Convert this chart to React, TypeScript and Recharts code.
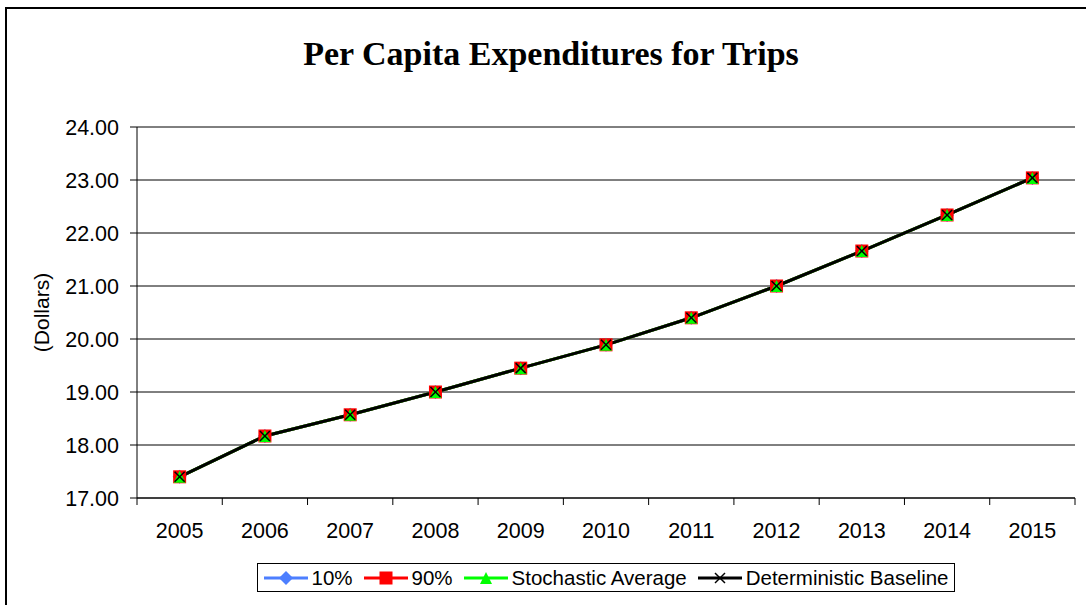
import { LineChart, Line, XAxis, YAxis, CartesianGrid } from "recharts";

const years = ["2005", "2006", "2007", "2008", "2009", "2010", "2011", "2012", "2013", "2014", "2015"];
const tenPct = [17.4, 18.17, 18.57, 19.0, 19.45, 19.89, 20.4, 21.0, 21.66, 22.34, 23.04];
const ninetyPct = [17.4, 18.17, 18.57, 19.0, 19.45, 19.89, 20.4, 21.0, 21.66, 22.34, 23.04];
const stochasticAvg = [17.4, 18.17, 18.57, 19.0, 19.45, 19.89, 20.4, 21.0, 21.66, 22.34, 23.04];
const deterministicBaseline = [17.4, 18.17, 18.57, 19.0, 19.45, 19.89, 20.4, 21.0, 21.66, 22.34, 23.04];
const yTicks = [17, 18, 19, 20, 21, 22, 23, 24];

const data = years.map((year, i) => ({
  year,
  p10: tenPct[i],
  p90: ninetyPct[i],
  avg: stochasticAvg[i],
  base: deterministicBaseline[i],
}));

const BLUE = "#4d7fff";
const RED = "#ff0000";
const GREEN = "#00ff00";
const FONT = "'Liberation Sans', Arial, sans-serif";

const PLOT_LEFT = 137;
const PLOT_RIGHT = 1075;
const HALF_BAND = (PLOT_RIGHT - PLOT_LEFT) / years.length / 2;

const Diamond = ({ cx, cy }: any) => (
  <polygon points={`${cx},${cy - 7} ${cx + 7},${cy} ${cx},${cy + 7} ${cx - 7},${cy}`} fill={BLUE} />
);
const Square = ({ cx, cy }: any) => <rect x={cx - 6.5} y={cy - 6.5} width={13} height={13} fill={RED} />;
const Triangle = ({ cx, cy }: any) => (
  <polygon points={`${cx},${cy - 6} ${cx + 6},${cy + 6} ${cx - 6},${cy + 6}`} fill={GREEN} />
);
const Cross = ({ cx, cy }: any) => (
  <g stroke="#000" strokeWidth={1.5}>
    <line x1={cx - 5} y1={cy - 5} x2={cx + 5} y2={cy + 5} />
    <line x1={cx - 5} y1={cy + 5} x2={cx + 5} y2={cy - 5} />
  </g>
);

const XTick = (props: any) => {
  const { x, y, payload, index } = props;
  return (
    <g>
      <line x1={x - HALF_BAND} x2={x - HALF_BAND} y1={y} y2={y + 7} stroke="#000" />
      {index === years.length - 1 && (
        <line x1={x + HALF_BAND} x2={x + HALF_BAND} y1={y} y2={y + 7} stroke="#000" />
      )}
      <text x={x} y={y + 40} textAnchor="middle" fontSize={21.5} fontFamily={FONT} fill="#000">
        {payload.value}
      </text>
    </g>
  );
};

const legendItems = [
  { label: "10%", color: BLUE, Mark: Diamond },
  { label: "90%", color: RED, Mark: Square },
  { label: "Stochastic Average", color: GREEN, Mark: Triangle },
  { label: "Deterministic Baseline", color: "#000", Mark: Cross },
];

const App = () => {
  return (
    <div style={{ position: "absolute", left: 0, top: 0, width: 1086, height: 605, overflow: "hidden", background: "#fff" }}>
      <div
        style={{
          position: "absolute",
          left: 5,
          top: 7,
          width: 1100,
          height: 620,
          border: "2px solid #000",
        }}
      />
      <div
        style={{
          position: "absolute",
          left: 0,
          width: 1102,
          top: 34,
          textAlign: "center",
          fontFamily: "'Liberation Serif', 'Times New Roman', serif",
          fontWeight: "bold",
          fontSize: 34,
          lineHeight: "40px",
          color: "#000",
        }}
      >
        Per Capita Expenditures for Trips
      </div>
      <div style={{ position: "absolute", left: 0, top: 0 }}>
        <LineChart width={1086} height={605} data={data} margin={{ top: 127, right: 11, bottom: 67, left: 30 }}>
          <CartesianGrid horizontal vertical={false} stroke="#000" strokeWidth={1} />
          <XAxis
            dataKey="year"
            height={40}
            stroke="#000"
            tickLine={false}
            tickSize={0}
            tickMargin={0}
            tick={<XTick />}
            interval={0}
            padding={{ left: HALF_BAND, right: HALF_BAND }}
          />
          <YAxis
            width={107}
            domain={[17, 24]}
            ticks={yTicks}
            stroke="#000"
            tickSize={7}
            tickMargin={11}
            tickFormatter={(v: number) => v.toFixed(2)}
            tick={{ fontSize: 21.5, fontFamily: FONT, fill: "#000" }}
            label={{
              value: "(Dollars)",
              angle: -90,
              position: "insideLeft",
              offset: 12,
              style: { textAnchor: "middle", fontSize: 21, fontFamily: FONT, fill: "#000" },
            }}
          />
          <YAxis
            yAxisId="frame"
            orientation="right"
            width={0}
            domain={[17, 24]}
            stroke="#888"
            tick={false}
            tickLine={false}
          />
          <Line dataKey="p10" stroke={BLUE} strokeWidth={3} dot={<Diamond />} isAnimationActive={false} />
          <Line dataKey="p90" stroke={RED} strokeWidth={3} dot={<Square />} isAnimationActive={false} />
          <Line dataKey="avg" stroke={GREEN} strokeWidth={3} dot={<Triangle />} isAnimationActive={false} />
          <Line dataKey="base" stroke="#000" strokeWidth={3} dot={<Cross />} isAnimationActive={false} />
        </LineChart>
      </div>
      <div
        style={{
          position: "absolute",
          left: 257,
          top: 563,
          width: 696,
          height: 27,
          border: "1px solid #000",
          display: "flex",
          alignItems: "center",
          justifyContent: "center",
          gap: 11,
          fontFamily: FONT,
          fontSize: 20.5,
          color: "#000",
        }}
      >
        {legendItems.map(({ label, color, Mark }) => (
          <div key={label} style={{ display: "flex", alignItems: "center", gap: 4 }}>
            <svg width={44} height={16}>
              <line x1={0} x2={44} y1={8} y2={8} stroke={color} strokeWidth={3} />
              <Mark cx={22} cy={8} />
            </svg>
            <span>{label}</span>
          </div>
        ))}
      </div>
    </div>
  );
};

export default App;
